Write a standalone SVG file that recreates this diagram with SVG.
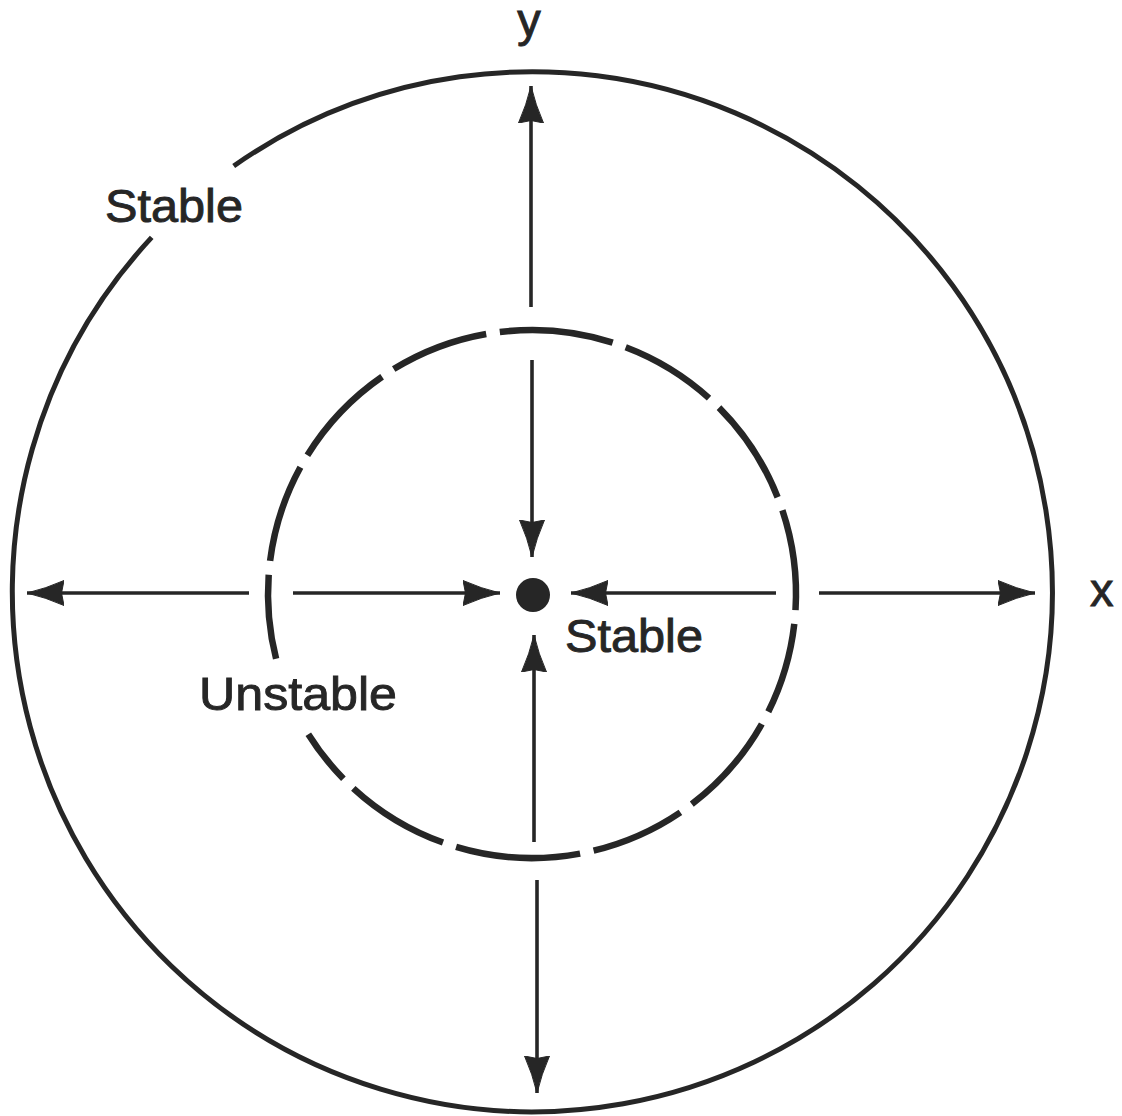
<svg xmlns="http://www.w3.org/2000/svg" width="1122" height="1116" viewBox="0 0 1122 1116">
<style>
.lbl{font-family:"Liberation Sans",Arial,Helvetica,sans-serif;font-size:47px;fill:#262626;stroke:#262626;stroke-width:0.9}
.outer{fill:none;stroke:#262626;stroke-width:5}
.dash{fill:none;stroke:#262626;stroke-width:6.5;stroke-linecap:butt}
.arr{stroke:#262626;stroke-width:3.6;fill:none}
</style>
<defs>
<marker id="ah" viewBox="0 0 38 28" refX="37" refY="14" markerWidth="38" markerHeight="28" markerUnits="userSpaceOnUse" orient="auto">
<path d="M37,14 Q18,9.5 0,1.5 L2.5,14 L0,26.5 Q18,18.5 37,14 Z" fill="#262626" stroke="#262626" stroke-width="1" stroke-linejoin="round"/>
</marker>
</defs>
<rect width="1122" height="1116" fill="#ffffff"/>
<g id="outer-limit-cycle">
<path class="outer" d="M233.7,166 A520,520 0 1 1 151.7,237.4"/>
</g>
<g id="inner-limit-cycle">
<path class="dash" d="M794.3,623.9 A264,264 0 0 1 768.3,711.8"/>
<path class="dash" d="M761.8,724 A264,264 0 0 1 691.8,804.1"/>
<path class="dash" d="M680.4,812.4 A264,264 0 0 1 593.6,850.7"/>
<path class="dash" d="M580.1,853.6 A264,264 0 0 1 456.1,846.9"/>
<path class="dash" d="M443,842.5 A264,264 0 0 1 353.3,788.3"/>
<path class="dash" d="M343.4,778.7 A264,264 0 0 1 308.3,734.2"/>
<path class="dash" d="M276.1,658.8 A264,264 0 0 1 268.7,574.7"/>
<path class="dash" d="M270.1,560.9 A264,264 0 0 1 300.4,467.2"/>
<path class="dash" d="M307.4,455.2 A264,264 0 0 1 382.1,376.7"/>
<path class="dash" d="M393.7,369.1 A264,264 0 0 1 486.2,334"/>
<path class="dash" d="M499.8,332 A264,264 0 0 1 612.7,342.6"/>
<path class="dash" d="M625.7,347.2 A264,264 0 0 1 709,398.1"/>
<path class="dash" d="M719,407.6 A264,264 0 0 1 777.6,497.2"/>
<path class="dash" d="M782.4,510.2 A264,264 0 0 1 795.5,610.1"/>
</g>
<g id="equilibrium">
<circle cx="533" cy="595" r="17" fill="#262626"/>
</g>
<g id="connectors">
<line class="arr" x1="531" y1="307" x2="531" y2="86" marker-end="url(#ah)"/>
<line class="arr" x1="532" y1="360" x2="532" y2="557" marker-end="url(#ah)"/>
<line class="arr" x1="534" y1="842" x2="534" y2="635" marker-end="url(#ah)"/>
<line class="arr" x1="537" y1="880" x2="537" y2="1093" marker-end="url(#ah)"/>
<line class="arr" x1="249" y1="593" x2="27" y2="593" marker-end="url(#ah)"/>
<line class="arr" x1="293" y1="593" x2="500" y2="593" marker-end="url(#ah)"/>
<line class="arr" x1="776" y1="593" x2="571" y2="593" marker-end="url(#ah)"/>
<line class="arr" x1="819" y1="593" x2="1035" y2="593" marker-end="url(#ah)"/>
</g>
<g id="labels">
<text class="lbl" x="529" y="36" text-anchor="middle">y</text>
<text class="lbl" x="1090" y="606">x</text>
<text class="lbl" x="105" y="222" textLength="138" lengthAdjust="spacingAndGlyphs">Stable</text>
<text class="lbl" x="565" y="652" textLength="138" lengthAdjust="spacingAndGlyphs">Stable</text>
<text class="lbl" x="199" y="710" textLength="198" lengthAdjust="spacingAndGlyphs">Unstable</text>
</g>
</svg>
